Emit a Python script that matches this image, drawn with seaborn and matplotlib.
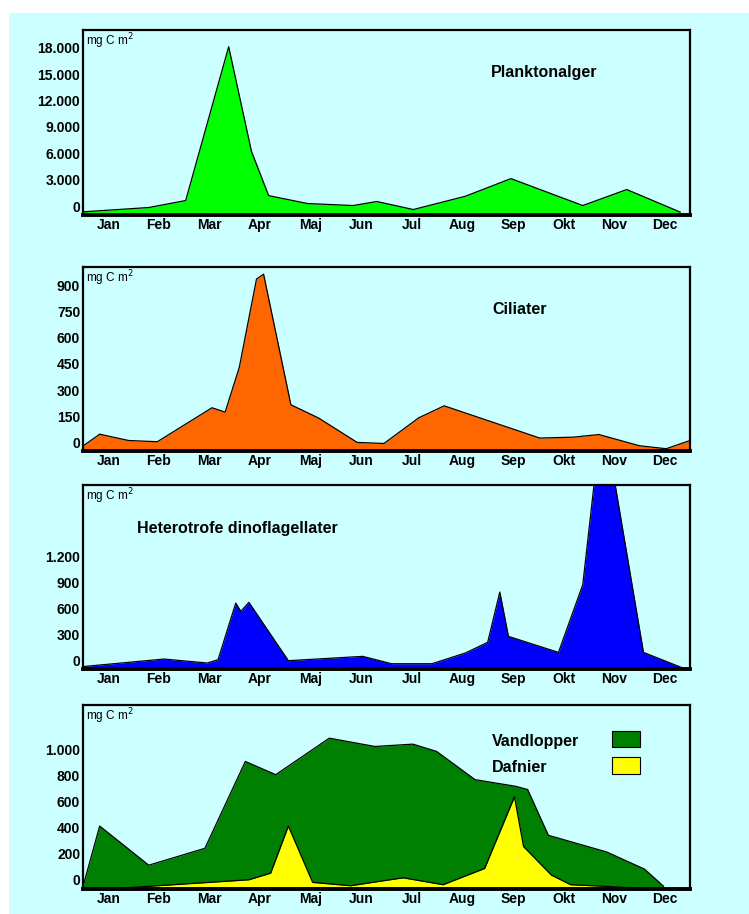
import matplotlib
matplotlib.use("Agg")
import matplotlib.pyplot as plt
import numpy as np
import pandas as pd
import seaborn as sns
from matplotlib.patches import Rectangle

# month labels (ticks at month centres)
months = ['Jan', 'Feb', 'Mar', 'Apr', 'Maj', 'Jun', 'Jul', 'Aug', 'Sep', 'Okt', 'Nov', 'Dec']

# Planktonalger
alg_t = [0.0, 1.3, 2.03, 2.88, 3.33, 3.67, 4.44, 5.34, 5.81, 6.53, 7.56, 8.46, 9.88, 10.75, 11.81]
alg_v = [-640, -150, 640, 18100, 6230, 1200, 300, 75, 530, -380, 1130, 3130, 75, 1890, -680]

# Ciliater
cil_t = [-0.14, 0.33, 0.9, 1.47, 2.55, 2.81, 3.09, 3.43, 3.57, 4.11, 4.66, 5.42, 5.95,
         6.64, 7.14, 9.03, 9.69, 10.2, 11.0, 11.53, 12.0]
cil_v = [-47, 49, 13, 6, 200, 175, 431, 935, 963, 217, 141, 2, -4,
         143, 211, 27, 32, 47, -17, -34, 13]

# Heterotrofe dinoflagellater
din_t = [-0.09, 1.6, 2.46, 2.67, 3.02, 3.12, 3.28, 4.06, 5.53, 6.1, 6.9, 7.56, 8.0,
         8.24, 8.41, 9.4, 9.88, 10.27, 11.08, 11.86]
din_v = [-73, 19, -27, 12, 666, 570, 674, 0, 50, -35, -35, 89, 212,
         793, 281, 96, 878, 2900, 96, -85]

# Vandlopper
van_t = [0.0, 0.33, 1.3, 2.41, 3.21, 3.81, 4.87, 5.77, 6.52, 6.99, 7.75, 8.55, 8.79,
         9.2, 10.35, 11.1, 11.48]
van_v = [-51, 413, 112, 242, 910, 808, 1089, 1025, 1043, 987, 770, 719, 694,
         342, 214, 82, -51]

# Dafnier
daf_t = [0.76, 1.47, 2.5, 3.28, 3.71, 4.06, 4.54, 5.29, 5.81, 6.33, 7.12, 7.94, 8.53,
         8.71, 9.26, 9.64, 10.35, 11.0]
daf_v = [-64, -46, -20, 0, 51, 413, -20, -46, -15, 15, -38, 87, 638,
         255, 36, -38, -51, -66]

sns.set_style("white")
plt.rcParams['font.family'] = ['Liberation Sans', 'DejaVu Sans']
plt.rcParams['text.color'] = 'black'
plt.rcParams['xtick.color'] = 'black'
plt.rcParams['ytick.color'] = 'black'
plt.rcParams['axes.labelcolor'] = 'black'

W, H = 749, 914
fig = plt.figure(figsize=(W / 100, H / 100), dpi=100, facecolor='white')
bg = '#ccffff'
fig.patches.append(Rectangle((9 / W, 0), 1, 1 - 13 / H, transform=fig.transFigure,
                             facecolor=bg, edgecolor='none', zorder=-10))

TICK_FS = 10


def make_ax(top, bottom):
    ax = fig.add_axes([83 / W, 1 - bottom / H, (690 - 83) / W, (bottom - top) / H])
    ax.set_facecolor(bg)
    ax.patch.set_alpha(0)
    for s in ['top', 'left', 'right']:
        ax.spines[s].set_linewidth(1.6)
        ax.spines[s].set_color('black')
    ax.spines['bottom'].set_linewidth(2.8)
    ax.spines['bottom'].set_color('black')
    ax.set_xlim(0, 12)
    ax.tick_params(length=0, labelsize=TICK_FS, pad=2, colors='black')
    ax.text(0.005, 0.99, 'mg C m$^2$', transform=ax.transAxes, ha='left', va='top',
            fontsize=8.5, color='black')
    return ax


def area(ax, t, v, color, ymin):
    df = pd.DataFrame({'t': t, 'v': v})
    ax.fill_between(df['t'], df['v'], ymin, color=color, linewidth=0)
    sns.lineplot(data=df, x='t', y='v', ax=ax, color='black', linewidth=0.9,
                 errorbar=None, sort=False)
    ax.set_xlabel('')
    ax.set_ylabel('')


def fmt_thousands(vals):
    return [f'{v:,}'.replace(',', '.') for v in vals]


def set_ticks(ax, yt, labels):
    ax.set_yticks(yt)
    ax.set_yticklabels(labels, fontweight='bold', fontsize=TICK_FS, color='black')
    ax.set_xticks(np.arange(12) + 0.5)
    ax.set_xticklabels(months, fontweight='bold', fontsize=TICK_FS, color='black')


# Panel 1
ax1 = make_ax(30, 215)
area(ax1, alg_t, alg_v, '#00ff00', -1000)
ax1.set_ylim(-1000, 20000)
yt = [0, 3000, 6000, 9000, 12000, 15000, 18000]
set_ticks(ax1, yt, fmt_thousands(yt))
ax1.text(0.672, 0.77, 'Planktonalger', transform=ax1.transAxes, fontsize=11.5,
         fontweight='bold', va='center')

# Panel 2
ax2 = make_ax(267, 451)
area(ax2, cil_t, cil_v, '#ff6600', -47)
ax2.set_ylim(-47, 1004)
yt = [0, 150, 300, 450, 600, 750, 900]
set_ticks(ax2, yt, [str(v) for v in yt])
ax2.text(0.674, 0.77, 'Ciliater', transform=ax2.transAxes, fontsize=11.5,
         fontweight='bold', va='center')

# Panel 3
ax3 = make_ax(485, 669)
area(ax3, din_t, din_v, '#0000ff', -96)
ax3.set_ylim(-96, 2030)
yt = [0, 300, 600, 900, 1200]
set_ticks(ax3, yt, fmt_thousands(yt))
ax3.text(0.089, 0.766, 'Heterotrofe dinoflagellater', transform=ax3.transAxes,
         fontsize=11.5, fontweight='bold', va='center')

# Panel 4
ax4 = make_ax(705, 889)
area(ax4, van_t, van_v, '#008000', -71)
area(ax4, daf_t, daf_v, '#ffff00', -71)
ax4.set_ylim(-71, 1344)
yt = [0, 200, 400, 600, 800, 1000]
set_ticks(ax4, yt, fmt_thousands(yt))
for label, col, ty, py in [('Vandlopper', '#008000', 0.80, 0.773),
                           ('Dafnier', '#ffff00', 0.66, 0.627)]:
    ax4.text(0.674, ty, label, transform=ax4.transAxes, fontsize=11.5,
             fontweight='bold', va='center')
    ax4.add_patch(Rectangle((0.872, py), 0.045, 0.088, transform=ax4.transAxes,
                            facecolor=col, edgecolor='black', linewidth=0.8))

fig.savefig('out.png', dpi=100, facecolor='white')
